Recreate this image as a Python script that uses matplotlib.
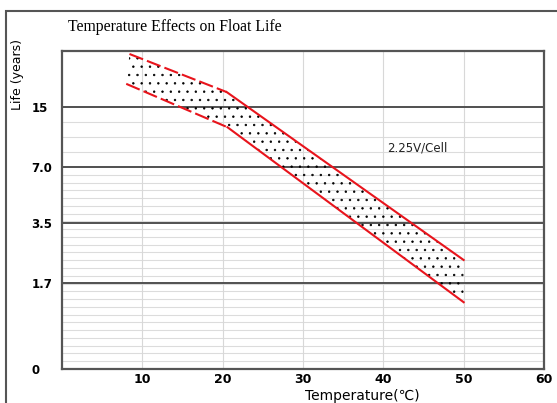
import numpy as np
import matplotlib
matplotlib.use("Agg")
import matplotlib.pyplot as plt
from matplotlib.patches import Rectangle

# ---- data ----
title = "Temperature Effects on Float Life"
x_ticks = [10, 20, 30, 40, 50, 60]
y_tick_values = [0, 1.7, 3.5, 7.0, 15]
y_tick_labels = ["0", "1.7", "3.5", "7.0", "15"]

upper_dashed_temp = [8.4, 20.5]
upper_dashed_life = [29.2, 19.0]
upper_solid_temp = [20.5, 50]
upper_solid_life = [19.0, 2.39]

lower_dashed_temp = [8.0, 20.6]
lower_dashed_life = [21.2, 12.3]
lower_solid_temp = [20.6, 50]
lower_solid_life = [12.3, 1.32]

annotation = "2.25V/Cell"

# ---- non-uniform life axis (chart's own printed scale) ----
scale_vals = np.array([0, 1.7, 3.5, 7.0, 15, 30])
scale_pos = np.array([0, 86, 146, 202, 262, 318], dtype=float)

def fwd(v):
    return np.interp(v, scale_vals, scale_pos, left=-1e3, right=1e3)

def inv(p):
    return np.interp(p, scale_pos, scale_vals)

fig = plt.figure(figsize=(5.57, 4.03), dpi=100)
fig.patch.set_facecolor("white")

# outer frame
fig.patches.append(Rectangle((6/557, -0.1), 1.2, 1 - 11/403 + 0.1, transform=fig.transFigure,
                             fill=False, edgecolor="#555555", linewidth=1.5))

ax = fig.add_axes([62/557, 1 - 369/403, (544 - 62)/557, (369 - 51)/403])
ax.set_yscale("function", functions=(fwd, inv))
ax.set_xlim(0, 60)
ax.set_ylim(0, 30)

# minor horizontal grid
minor_pos = np.concatenate([np.linspace(0, 202, 27)[1:-1], np.arange(217, 262, 15)])
for p in minor_pos:
    ax.axhline(inv(p), color="#dcdcdc", linewidth=0.8, zorder=1)
for xv in x_ticks[:-1]:
    ax.axvline(xv, color="#d8d8d8", linewidth=0.8, zorder=1)
for yv in y_tick_values[1:]:
    ax.axhline(yv, color="#505050", linewidth=1.4, zorder=2)

# dotted band
poly_x = upper_dashed_temp + upper_solid_temp[1:] + lower_solid_temp[::-1][:1] + lower_dashed_temp[::-1]
poly_y = upper_dashed_life + upper_solid_life[1:] + lower_solid_life[::-1][:1] + lower_dashed_life[::-1]
matplotlib.rcParams["hatch.linewidth"] = 0.5
ax.fill(poly_x, poly_y, facecolor="none", edgecolor="black", hatch="..", linewidth=0, zorder=3)

red = "#e8141c"
ax.plot(upper_dashed_temp, upper_dashed_life, color=red, lw=1.5, dashes=(7, 2), zorder=4)
ax.plot(upper_solid_temp, upper_solid_life, color=red, lw=1.5, zorder=4)
ax.plot(lower_dashed_temp, lower_dashed_life, color=red, lw=1.5, dashes=(7, 2), zorder=4)
ax.plot(lower_solid_temp, lower_solid_life, color=red, lw=1.5, zorder=4)

ax.text(40.5, 9.5, annotation, fontsize=8.5, family="DejaVu Sans", color="#222222",
        ha="left", va="center", zorder=5)

ax.set_xticks(x_ticks)
ax.set_xticklabels([str(v) for v in x_ticks], fontsize=9, fontweight="bold", family="DejaVu Sans")
ax.set_yticks(y_tick_values)
ax.set_yticklabels(y_tick_labels, fontsize=8.5, fontweight="bold", family="DejaVu Sans")
ax.yaxis.set_minor_locator(matplotlib.ticker.NullLocator())
ax.tick_params(length=0)
ax.tick_params(axis="x", pad=3)
ax.tick_params(axis="y", pad=22)
for lab in ax.get_yticklabels():
    lab.set_horizontalalignment("left")

for s in ax.spines.values():
    s.set_color("#555555")
    s.set_linewidth(1.6)

fig.text(68/557, 1 - 27/403, title, family="Liberation Serif", fontsize=11.3, va="center", ha="left")
fig.text(18/557, 1 - 75/403, "Life (years)", rotation=90, family="DejaVu Sans", fontsize=9,
         va="center", ha="center")
fig.text(362/557, 1 - 396/403, "Temperature(℃)", family=["DejaVu Sans", "Noto Sans CJK SC"],
         fontsize=10, va="center", ha="center")

fig.savefig("out.png", dpi=100)
